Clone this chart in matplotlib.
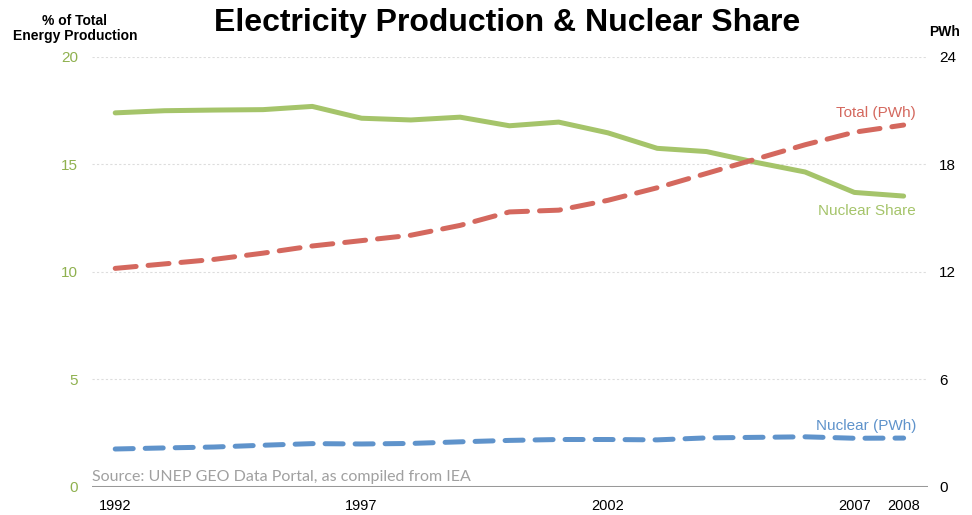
import numpy as np
import matplotlib.pyplot as plt

years = list(range(1992, 2009))
nuclear_share = [17.4, 17.5, 17.53, 17.55, 17.7, 17.15, 17.07, 17.2, 16.8, 16.97,
                 16.47, 15.75, 15.6, 15.1, 14.65, 13.7, 13.53]
total_pwh = [12.2, 12.45, 12.7, 13.05, 13.45, 13.75, 14.05, 14.6, 15.35, 15.45,
             16.0, 16.7, 17.5, 18.3, 19.1, 19.8, 20.2]
nuclear_pwh = [2.12, 2.18, 2.23, 2.33, 2.42, 2.4, 2.43, 2.52, 2.6, 2.65,
               2.65, 2.63, 2.74, 2.77, 2.8, 2.72, 2.73]
xticks = [1992, 1997, 2002, 2007, 2008]

green = '#a5c46a'
red = '#d4685e'
blue = '#5f93cb'

plt.rcParams['font.family'] = ['Liberation Sans', 'DejaVu Sans']
fig = plt.figure(figsize=(9.72, 5.15), dpi=100)
ax = fig.add_axes([0.0947, 0.0544, 0.8603, 0.835])
ax2 = ax.twinx()

ax.set_xlim(1991.53, 2008.5)
ax.set_ylim(0, 20)
ax2.set_ylim(0, 24)

for y in [5, 10, 15, 20]:
    ax.axhline(y, color='#dddddd', lw=0.8, ls=(0, (2, 2)), zorder=0)
ax.axhline(0, color='#999999', lw=2.2, zorder=1)

ax.plot(years, nuclear_share, color=green, lw=3.6, solid_capstyle='round', zorder=3)
ax2.plot(years, total_pwh, color=red, lw=3.6, ls=(0, (4.2, 2.4)),
         dash_capstyle='round', zorder=3)
ax2.plot(years, nuclear_pwh, color=blue, lw=3.6, ls=(0, (3.6, 2.4)),
         dash_capstyle='round', zorder=3)

for a in (ax, ax2):
    for s in a.spines.values():
        s.set_visible(False)

ax.set_yticks([0, 5, 10, 15, 20])
ax.tick_params(axis='y', length=0, pad=10, labelsize=11, labelcolor='#8fb14f')
ax2.set_yticks([0, 6, 12, 18, 24])
ax2.tick_params(axis='y', length=0, pad=8, labelsize=11, labelcolor='black')
ax.set_xticks(xticks)
ax.tick_params(axis='x', length=0, pad=9, labelsize=10.5)

ax.text(2008.25, 12.85, 'Nuclear Share', color=green, fontsize=11, ha='right', va='center')
ax2.text(2008.25, 20.85, 'Total (PWh)', color=red, fontsize=11, ha='right', va='center')
ax2.text(2008.25, 3.4, 'Nuclear (PWh)', color=blue, fontsize=11, ha='right', va='center')
ax.text(1991.53, 0.12, 'Source: UNEP GEO Data Portal, as compiled from IEA',
        color='#a0a0a0', fontsize=11.5, family=['Lato', 'DejaVu Sans'], ha='left', va='bottom')

fig.text(0.522, 0.955, 'Electricity Production & Nuclear Share', fontsize=23,
         fontweight='bold', ha='center', va='center')
fig.text(0.077, 0.945, '% of Total\nEnergy Production', fontsize=10, fontweight='bold',
         ha='center', va='center', linespacing=1.1)
fig.text(0.972, 0.937, 'PWh', fontsize=10, fontweight='bold', ha='center', va='center')

fig.savefig('out.png', dpi=100)
